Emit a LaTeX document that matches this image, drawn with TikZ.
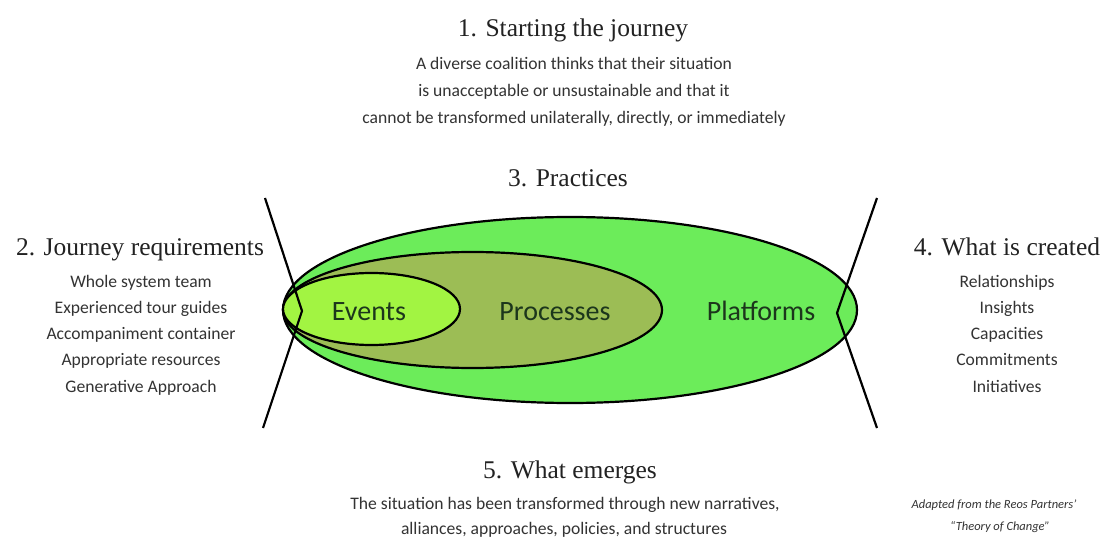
\documentclass[tikz,border=0pt]{standalone}
\usepackage{fontspec}
\setmainfont{Carlito}
\newfontfamily\headfont{Liberation Serif}
\usetikzlibrary{shapes.geometric}
\definecolor{outergreen}{HTML}{6CEC5A}
\definecolor{procgreen}{HTML}{9CBD55}
\definecolor{eventgreen}{HTML}{A2F442}
\definecolor{headgray}{HTML}{222222}
\definecolor{bodygray}{HTML}{333333}
\definecolor{labelgreen}{HTML}{1C361C}
\tikzset{
  heading/.style={anchor=base, text=headgray, inner sep=0pt, font=\headfont\fontsize{25.5}{28}\selectfont},
  bodytext/.style={anchor=base, text=bodygray, inner sep=0pt, font=\fontsize{17.6}{20}\selectfont},
  ovallabel/.style={anchor=base, text=labelgreen, inner sep=0pt, font=\fontsize{28}{32}\selectfont},
  notetext/.style={anchor=base, text=bodygray, inner sep=0pt, font=\itshape\fontsize{12.5}{14}\selectfont},
  oval/.style={draw=black, line width=2.2pt},
  bowline/.style={draw=black, line width=2.2pt, line join=miter}
}
\begin{document}
\begin{tikzpicture}[x=1pt, y=-1pt]
\useasboundingbox[fill=white] (0,0) rectangle (1104,540);

% ellipses
\fill[outergreen] (570,310) ellipse [x radius=287pt, y radius=93pt];
\draw[oval] (570,310) ellipse [x radius=287pt, y radius=93pt];
\fill[procgreen] (472.5,310) ellipse [x radius=189.5pt, y radius=58pt];
\draw[oval] (472.5,310) ellipse [x radius=189.5pt, y radius=58pt];
\fill[eventgreen] (371.5,309) ellipse [x radius=88.5pt, y radius=36pt];
\draw[oval] (371.5,309) ellipse [x radius=88.5pt, y radius=36pt];

% bow lines
\coordinate (lt) at (265,198);
\coordinate (lk) at (302,311);
\coordinate (lb) at (263,428);
\coordinate (rt) at (877,198);
\coordinate (rk) at (837,313);
\coordinate (rb) at (877,428);
\draw[bowline] (lt) -- (lk) -- (lb);
\draw[bowline] (rt) -- (rk) -- (rb);

% oval labels
\node[ovallabel] (events) at (369,320) {Events};
\node[ovallabel] (processes) at (555,320) {Processes};
\node[ovallabel] (platforms) at (761,320) {Platforms};

% 1. Starting the journey
\node[heading] (h1) at (573,37) {1. Starting the journey};
\node[bodytext] (t1a) at (574,70) {A diverse coalition thinks that their situation};
\node[bodytext] (t1b) at (574,97) {is unacceptable or unsustainable and that it};
\node[bodytext] (t1c) at (574,124) {cannot be transformed unilaterally, directly, or immediately};

% 3. Practices
\node[heading] (h3) at (568,187) {3. Practices};

% 2. Journey requirements
\node[heading] (h2) at (140,256) {2. Journey requirements};
\node[bodytext] (l1) at (141,288) {Whole system team};
\node[bodytext] (l2) at (141,314) {Experienced tour guides};
\node[bodytext] (l3) at (141,340) {Accompaniment container};
\node[bodytext] (l4) at (141,366) {Appropriate resources};
\node[bodytext] (l5) at (141,392) {Generative Approach};

% 4. What is created
\node[heading] (h4) at (1007,256) {4. What is created};
\node[bodytext] (r1) at (1007,288) {Relationships};
\node[bodytext] (r2) at (1007,314) {Insights};
\node[bodytext] (r3) at (1007,340) {Capacities};
\node[bodytext] (r4) at (1007,366) {Commitments};
\node[bodytext] (r5) at (1007,392) {Initiatives};

% 5. What emerges
\node[heading] (h5) at (570,478) {5. What emerges};
\node[bodytext] (t5a) at (565,509) {The situation has been transformed through new narratives,};
\node[bodytext] (t5b) at (564,534) {alliances, approaches, policies, and structures};

% note
\node[notetext] (n1) at (994,508) {Adapted from the Reos Partners'};
\node[notetext] (n2) at (1000,530) {``Theory of Change''};
\end{tikzpicture}
\end{document}
